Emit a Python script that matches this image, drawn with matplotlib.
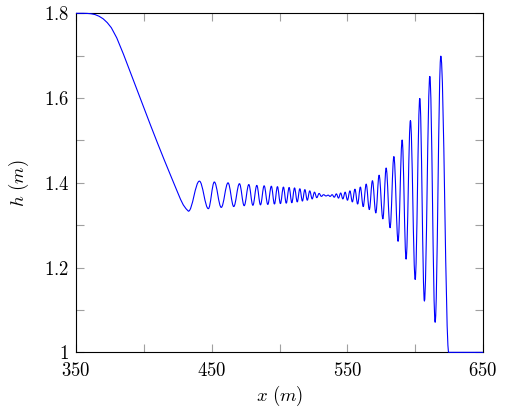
import numpy as np
import matplotlib
matplotlib.use('Agg')
import matplotlib.pyplot as plt
from matplotlib.path import Path
from matplotlib.patches import PathPatch
from matplotlib.ticker import FixedLocator, FuncFormatter

# ── data ──────────────────────────────────────────────────────
# smooth descent from the upstream level down to the first trough
descent_x = [350, 355, 358, 361, 364, 367, 370, 373, 376, 380, 385, 390,
             395, 400, 405, 410, 415, 420, 424, 427, 429, 431]
descent_h = [1.800, 1.800, 1.7998, 1.799, 1.797, 1.793, 1.787, 1.778, 1.766,
             1.742, 1.703, 1.661, 1.619, 1.577, 1.535, 1.494, 1.454, 1.415,
             1.384, 1.361, 1.348, 1.339]

# wave crests
peak_x = [440.9, 451.9, 462.0, 470.4, 477.3, 483.2, 488.6, 493.9, 498.4,
          502.8, 507.0, 511.0, 514.9, 518.6, 522.2, 525.7, 529.1, 532.4,
          535.8, 538.7, 541.8, 545.0, 548.3, 551.8, 555.5, 559.5, 563.8,
          568.4, 573.3, 578.5, 584.2, 590.3, 596.4, 603.3, 610.7, 618.8]
peak_h = [1.404, 1.402, 1.400, 1.398, 1.396, 1.394, 1.393, 1.392, 1.391,
          1.390, 1.389, 1.388, 1.386, 1.384, 1.381, 1.378, 1.375, 1.372,
          1.371, 1.372, 1.374, 1.376, 1.378, 1.381, 1.385, 1.390, 1.397,
          1.405, 1.418, 1.435, 1.462, 1.501, 1.547, 1.599, 1.651, 1.699]

# wave troughs
trough_x = [432.8, 447.5, 457.0, 466.2, 473.9, 480.3, 485.9, 491.3, 496.2,
            500.6, 504.9, 509.0, 513.0, 516.8, 520.4, 524.0, 527.4, 530.8,
            534.2, 537.2, 540.3, 543.4, 546.6, 550.0, 553.6, 557.5, 561.6,
            566.1, 570.9, 576.1, 581.4, 587.3, 593.2, 599.9, 606.7, 614.6]
trough_h = [1.333, 1.339, 1.342, 1.344, 1.346, 1.347, 1.348, 1.349, 1.350,
            1.351, 1.352, 1.353, 1.355, 1.357, 1.359, 1.362, 1.365, 1.368,
            1.369, 1.368, 1.366, 1.364, 1.362, 1.359, 1.355, 1.350, 1.344,
            1.337, 1.329, 1.315, 1.294, 1.262, 1.220, 1.172, 1.121, 1.071]

# foot of the front and downstream level
front_x = [624.6, 650]
front_h = [1.000, 1.000]

x_ticks = [350, 450, 550, 650]
x_minor = [400, 500, 600]
y_ticks = [1.0, 1.2, 1.4, 1.6, 1.8]
y_minor = [1.1, 1.3, 1.5, 1.7]

# ── build the curve: polyline descent, smooth waves between extrema ──
ext_x = np.concatenate([peak_x, trough_x, front_x[:1]])
ext_h = np.concatenate([peak_h, trough_h, front_h[:1]])
order = np.argsort(ext_x)
ext_x, ext_h = ext_x[order], ext_h[order]

verts = list(zip(descent_x, descent_h))
codes = [Path.MOVETO] + [Path.LINETO] * (len(descent_x) - 1)
verts.append((ext_x[0], ext_h[0]))
codes.append(Path.LINETO)
for (x0, h0), (x1, h1) in zip(zip(ext_x[:-1], ext_h[:-1]), zip(ext_x[1:], ext_h[1:])):
    d = 0.37 * (x1 - x0)
    verts += [(x0 + d, h0), (x1 - d, h1), (x1, h1)]
    codes += [Path.CURVE4] * 3
verts.append((front_x[-1], front_h[-1]))
codes.append(Path.LINETO)

# ── figure ────────────────────────────────────────────────────
plt.rcParams['mathtext.fontset'] = 'cm'
plt.rcParams['font.family'] = 'serif'
plt.rcParams['font.serif'] = ['DejaVu Serif']

fig = plt.figure(figsize=(5.07, 4.16), dpi=100)
ax = fig.add_axes([0.150, 0.153, 0.803, 0.815])

ax.add_patch(PathPatch(Path(verts, codes), fill=False, edgecolor='#0000ff',
                       lw=0.8, capstyle='butt', joinstyle='round',
                       clip_on=False, zorder=3))

ax.set_xlim(350, 650)
ax.set_ylim(1.0, 1.8)
ax.xaxis.set_major_locator(FixedLocator(x_ticks))
ax.xaxis.set_minor_locator(FixedLocator(x_minor))
ax.yaxis.set_major_locator(FixedLocator(y_ticks))
ax.yaxis.set_minor_locator(FixedLocator(y_minor))

ax.xaxis.set_major_formatter(FuncFormatter(lambda v, p: r'$%g$' % v))
ax.yaxis.set_major_formatter(FuncFormatter(lambda v, p: r'$%g$' % round(v, 1)))

ax.tick_params(which='both', direction='in', top=True, right=True,
               length=6, width=0.8, color='#a0a0a0', labelsize=13.5)
ax.tick_params(axis='x', pad=7)
ax.tick_params(axis='y', pad=5)
for s in ax.spines.values():
    s.set_linewidth(0.8)
    s.set_zorder(2)

ax.set_xlabel(r'$x\ (m)$', fontsize=13.5, labelpad=3)
ax.set_ylabel(r'$h\ (m)$', fontsize=13.5, labelpad=9)

plt.savefig('out.png', dpi=100)
